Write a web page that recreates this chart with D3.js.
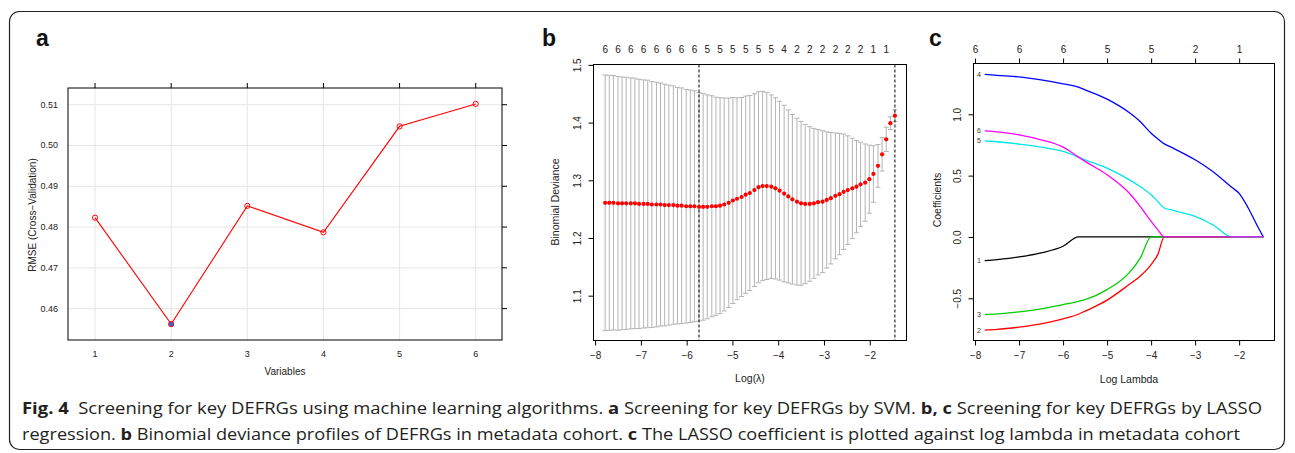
<!DOCTYPE html>
<html>
<head>
<meta charset="utf-8">
<script src="https://cdn.jsdelivr.net/npm/d3@7"></script>
<style>
  body { margin: 0; background: #fff; }
  text { font-family: "Liberation Sans", Arial, sans-serif; }
</style>
</head>
<body>
<script>
// ---- panel a : SVM-RFE ----
const varCounts = [1, 2, 3, 4, 5, 6];
const rmse = [0.4823, 0.4562, 0.4852, 0.4787, 0.5047, 0.5102];
const rmseTicks = [0.46, 0.47, 0.48, 0.49, 0.5, 0.51];

// ---- panel b : cv.glmnet ----
const logLambda = [
  -7.78, -7.69, -7.6, -7.5, -7.41, -7.32, -7.22, -7.13, -7.04, -6.94,
  -6.85, -6.76, -6.66, -6.57, -6.48, -6.39, -6.29, -6.2, -6.11, -6.01,
  -5.92, -5.83, -5.73, -5.64, -5.55, -5.45, -5.36, -5.27, -5.18, -5.08,
  -4.99, -4.9, -4.8, -4.71, -4.62, -4.52, -4.43, -4.34, -4.25, -4.15,
  -4.06, -3.97, -3.87, -3.78, -3.69, -3.59, -3.5, -3.41, -3.31, -3.22,
  -3.13, -3.03, -2.94, -2.85, -2.75, -2.66, -2.57, -2.48, -2.38, -2.29,
  -2.2, -2.1, -2.01, -1.92, -1.82, -1.73, -1.64, -1.55, -1.45
];
const cvMean = [
  1.261, 1.261, 1.261, 1.26, 1.26, 1.26, 1.26, 1.26, 1.259, 1.259,
  1.259, 1.258, 1.258, 1.258, 1.257, 1.257, 1.257, 1.256, 1.256, 1.255,
  1.255, 1.255, 1.254, 1.254, 1.254, 1.255, 1.255, 1.256, 1.258, 1.261,
  1.265, 1.268, 1.271, 1.275, 1.278, 1.283, 1.288, 1.29, 1.29, 1.289,
  1.286, 1.282, 1.277, 1.272, 1.267, 1.263, 1.26, 1.259, 1.259, 1.26,
  1.262, 1.263, 1.266, 1.269, 1.273, 1.276, 1.28, 1.283, 1.286, 1.289,
  1.293, 1.296, 1.302, 1.311, 1.325, 1.345, 1.371, 1.399, 1.412
];
const cvSd = [
  0.2215, 0.221, 0.2205, 0.22, 0.219, 0.2185, 0.2175, 0.217, 0.216, 0.215,
  0.2145, 0.213, 0.212, 0.2105, 0.2095, 0.208, 0.2065, 0.205, 0.204, 0.2025,
  0.2015, 0.2, 0.198, 0.1965, 0.194, 0.1915, 0.189, 0.187, 0.1845, 0.1815,
  0.1785, 0.175, 0.1725, 0.171, 0.169, 0.167, 0.1655, 0.164, 0.162, 0.159,
  0.157, 0.155, 0.153, 0.15, 0.147, 0.1445, 0.142, 0.138, 0.134, 0.13,
  0.126, 0.123, 0.118, 0.114, 0.109, 0.105, 0.1, 0.094, 0.087, 0.08,
  0.073, 0.067, 0.059, 0.049, 0.037, 0.029, 0.021, 0.011, 0.01
];
// number of non-zero coefficients shown on top (every 3rd lambda)
const nzeroTop = ["6","6","6","6","6","6","6","6","5","5","5","5","5","5","4","2","2","2","2","2","2","1","1"];
const lambdaMin = -5.73;
const lambda1se = -1.45;
const devTicks = [1.1, 1.2, 1.3, 1.4, 1.5];
const logTicks = [-8, -7, -6, -5, -4, -3, -2];

// ---- panel c : coefficient paths ----
const pathLogLambda = [-7.78, -7.5, -7.0, -6.5, -6.0, -5.65, -5.5, -5.0, -4.5, -4.25, -4.0, -3.85, -3.7, -3.5, -3.0, -2.6, -2.17, -2.0, -1.8, -1.6, -1.45];
const coef1 = [-0.193, -0.184, -0.163, -0.13, -0.076, 0, 0, 0, 0, 0, 0, 0, 0, 0, 0, 0, 0, 0, 0, 0, 0];
const coef2 = [-0.759, -0.754, -0.735, -0.708, -0.667, -0.63, -0.605, -0.515, -0.388, -0.32, -0.225, -0.144, 0, 0, 0, 0, 0, 0, 0, 0, 0];
const coef3 = [-0.632, -0.627, -0.61, -0.586, -0.551, -0.525, -0.51, -0.429, -0.293, -0.175, 0, 0, 0, 0, 0, 0, 0, 0, 0, 0, 0];
const coef4 = [1.326, 1.318, 1.305, 1.28, 1.248, 1.222, 1.199, 1.123, 1.014, 0.941, 0.846, 0.8, 0.759, 0.724, 0.629, 0.534, 0.405, 0.355, 0.24, 0.1, 0];
const coef5 = [0.784, 0.776, 0.757, 0.732, 0.697, 0.651, 0.629, 0.561, 0.467, 0.412, 0.344, 0.29, 0.236, 0.217, 0.168, 0.1, 0, 0, 0, 0, 0];
const coef6 = [0.865, 0.857, 0.833, 0.792, 0.732, 0.651, 0.616, 0.507, 0.358, 0.25, 0.127, 0.06, 0, 0, 0, 0, 0, 0, 0, 0, 0];
const coefNames = ["1", "2", "3", "4", "5", "6"];
const coefColors = ["#000000", "#ff0000", "#00cd00", "#0000ff", "#00e5e5", "#ff00ff"];
const dfTop = ["6", "6", "6", "5", "5", "2", "1"];
const coefTicks = [-0.5, 0, 0.5, 1.0];

const W = 1295, H = 453;
const svg = d3.select("body").append("svg").attr("width", W).attr("height", H);

// outer frame
svg.append("rect")
  .attr("x", 9.5).attr("y", 11.5).attr("width", 1275).attr("height", 438)
  .attr("rx", 10).attr("fill", "none").attr("stroke", "#222").attr("stroke-width", 1.2);

const panelLabel = (x, t) => {
  svg.append("text").attr("x", x).attr("y", 46).text(t)
    .style("font-size", "23px").style("font-weight", "bold").attr("fill", "#111");
};
panelLabel(36, "a");
panelLabel(542, "b");
panelLabel(929, "c");

const minus = (v, fmt) => fmt(v).replace("-", "\u2212");

// ================= panel a =================
const drawPanelA = () => {
  const xA = d3.scaleLinear().domain([0.645, 6.345]).range([68, 502]);
  const yA = d3.scaleLinear().domain([0.4523, 0.5141]).range([340, 88]);
  const g = svg.append("g");

  g.selectAll(".gx").data(varCounts).enter().append("line")
    .attr("x1", (d) => xA(d)).attr("x2", (d) => xA(d))
    .attr("y1", 88).attr("y2", 340)
    .attr("stroke", "#e6e6e6").attr("stroke-width", 1);
  g.selectAll(".gy").data(rmseTicks).enter().append("line")
    .attr("y1", (d) => yA(d)).attr("y2", (d) => yA(d))
    .attr("x1", 68).attr("x2", 502)
    .attr("stroke", "#e6e6e6").attr("stroke-width", 1);

  g.append("rect").attr("x", 68).attr("y", 88).attr("width", 434).attr("height", 252)
    .attr("fill", "none").attr("stroke", "#000").attr("stroke-width", 1);

  // top and right ticks
  g.selectAll(".tt").data(varCounts).enter().append("line")
    .attr("x1", (d) => xA(d)).attr("x2", (d) => xA(d))
    .attr("y1", 83).attr("y2", 88).attr("stroke", "#000");
  g.selectAll(".rt").data(rmseTicks).enter().append("line")
    .attr("y1", (d) => yA(d)).attr("y2", (d) => yA(d))
    .attr("x1", 502).attr("x2", 507).attr("stroke", "#000");

  g.selectAll(".xl").data(varCounts).enter().append("text")
    .attr("x", (d) => xA(d)).attr("y", 357).attr("text-anchor", "middle")
    .style("font-size", "9px").attr("fill", "#222").text((d) => d);
  g.selectAll(".yl").data(rmseTicks).enter().append("text")
    .attr("x", 58).attr("y", (d) => yA(d) + 3).attr("text-anchor", "end")
    .style("font-size", "9px").attr("fill", "#222").text((d) => d3.format(".2f")(d));

  g.append("text").attr("x", 285).attr("y", 375).attr("text-anchor", "middle")
    .style("font-size", "10px").attr("fill", "#222").text("Variables");
  g.append("text").attr("transform", "translate(36,215) rotate(-90)")
    .attr("text-anchor", "middle").style("font-size", "10px").attr("fill", "#222")
    .text("RMSE (Cross\u2212Validation)");

  const line = d3.line().x((d, i) => xA(varCounts[i])).y((d) => yA(d));
  g.append("path").datum(rmse).attr("d", line)
    .attr("fill", "none").attr("stroke", "#ff0000").attr("stroke-width", 1.1);

  const best = d3.minIndex(rmse);
  g.selectAll(".pt").data(rmse).enter().append("circle")
    .attr("cx", (d, i) => xA(varCounts[i])).attr("cy", (d) => yA(d)).attr("r", 2.6)
    .attr("fill", (d, i) => (i === best ? "#1f6fe0" : "none"))
    .attr("stroke", "#ff0000").attr("stroke-width", 1);
};

// ================= panel b =================
const drawPanelB = () => {
  const xB = d3.scaleLinear().domain([-8.035, -1.197]).range([593.5, 906.5]);
  const yB = d3.scaleLinear().domain([1.0223, 1.5007]).range([340.5, 64.5]);
  const g = svg.append("g");

  // error bars
  const bars = g.selectAll(".eb").data(logLambda).enter().append("g")
    .attr("stroke", "#b4b4b4").attr("stroke-width", 1);
  bars.append("line")
    .attr("x1", (d) => xB(d)).attr("x2", (d) => xB(d))
    .attr("y1", (d, i) => yB(cvMean[i] + cvSd[i])).attr("y2", (d, i) => yB(cvMean[i] - cvSd[i]));
  bars.append("line")
    .attr("x1", (d) => xB(d) - 2.5).attr("x2", (d) => xB(d) + 2.5)
    .attr("y1", (d, i) => yB(cvMean[i] + cvSd[i])).attr("y2", (d, i) => yB(cvMean[i] + cvSd[i]));
  bars.append("line")
    .attr("x1", (d) => xB(d) - 2.5).attr("x2", (d) => xB(d) + 2.5)
    .attr("y1", (d, i) => yB(cvMean[i] - cvSd[i])).attr("y2", (d, i) => yB(cvMean[i] - cvSd[i]));

  g.selectAll(".vl").data([lambdaMin, lambda1se]).enter().append("line")
    .attr("x1", (d) => xB(d)).attr("x2", (d) => xB(d))
    .attr("y1", 64.5).attr("y2", 340.5)
    .attr("stroke", "#000").attr("stroke-width", 1).attr("stroke-dasharray", "3,2");

  g.selectAll(".dot").data(cvMean).enter().append("circle")
    .attr("cx", (d, i) => xB(logLambda[i])).attr("cy", (d) => yB(d)).attr("r", 2.1)
    .attr("fill", "#ff0000");

  g.append("rect").attr("x", 593.5).attr("y", 64.5).attr("width", 313).attr("height", 276)
    .attr("fill", "none").attr("stroke", "#000").attr("stroke-width", 1);

  const xAxis = d3.axisBottom(xB).tickValues(logTicks).tickSize(5).tickPadding(6)
    .tickFormat((d) => minus(d, d3.format("d")));
  g.append("g").attr("transform", "translate(0,340.5)").call(xAxis)
    .call((s) => s.select(".domain").attr("d", "M" + xB(-8) + ",0H" + xB(-2)));
  const yAxis = d3.axisLeft(yB).tickValues(devTicks).tickSize(5).tickFormat(d3.format(".1f"));
  const ya = g.append("g").attr("transform", "translate(593.5,0)").call(yAxis);
  ya.select(".domain").attr("d", "M0," + yB(1.1) + "V" + yB(1.5));
  ya.selectAll(".tick text").attr("x", 0).attr("dx", 0).attr("dy", 0)
    .attr("text-anchor", "middle")
    .attr("transform", "translate(-13,0) rotate(-90)");
  g.selectAll(".tick text").style("font-size", "10px").style("font-family", "Liberation Sans, Arial, sans-serif").attr("fill", "#222");

  // top: number of non-zero coefficients
  g.selectAll(".nz").data(nzeroTop).enter().append("text")
    .attr("x", (d, i) => xB(logLambda[i * 3])).attr("y", 53)
    .attr("text-anchor", "middle").style("font-size", "10px").attr("fill", "#222")
    .text((d) => d);

  g.append("text").attr("x", 750).attr("y", 382).attr("text-anchor", "middle")
    .style("font-size", "10.5px").attr("fill", "#222").text("Log(\u03bb)");
  g.append("text").attr("transform", "translate(559,202) rotate(-90)")
    .attr("text-anchor", "middle").style("font-size", "10.5px").attr("fill", "#222")
    .text("Binomial Deviance");
};

// ================= panel c =================
const drawPanelC = () => {
  const xC = d3.scaleLinear().domain([-8.035, -1.197]).range([973.5, 1274.5]);
  const yC = d3.scaleLinear().domain([-0.844, 1.414]).range([340.5, 63.5]);
  const g = svg.append("g");
  const coefs = [coef1, coef2, coef3, coef4, coef5, coef6];

  const line = d3.line().curve(d3.curveMonotoneX)
    .x((d, i) => xC(pathLogLambda[i])).y((d) => yC(d));
  g.selectAll(".cp").data(coefs).enter().append("path")
    .attr("d", (d) => line(d))
    .attr("fill", "none").attr("stroke", (d, i) => coefColors[i]).attr("stroke-width", 1.3);

  g.selectAll(".cn").data(coefs).enter().append("text")
    .attr("x", 979).attr("y", (d) => yC(d[0]) + 2.5).attr("text-anchor", "middle")
    .style("font-size", "7px").attr("fill", "#333").text((d, i) => coefNames[i]);

  g.append("rect").attr("x", 973.5).attr("y", 63.5).attr("width", 301).attr("height", 277)
    .attr("fill", "none").attr("stroke", "#000").attr("stroke-width", 1);

  const xAxis = d3.axisBottom(xC).tickValues(logTicks).tickSize(5).tickPadding(6)
    .tickFormat((d) => minus(d, d3.format("d")));
  g.append("g").attr("transform", "translate(0,340.5)").call(xAxis)
    .call((s) => s.select(".domain").attr("d", "M" + xC(-8) + ",0H" + xC(-2)));
  const topAxis = d3.axisTop(xC).tickValues(logTicks).tickSize(5).tickPadding(6)
    .tickFormat((d, i) => dfTop[i]);
  g.append("g").attr("transform", "translate(0,63.5)").call(topAxis)
    .call((s) => s.select(".domain").attr("d", "M" + xC(-8) + ",0H" + xC(-2)));
  const yAxis = d3.axisLeft(yC).tickValues(coefTicks).tickSize(5)
    .tickFormat((d) => minus(d, d3.format(".1f")));
  const ya = g.append("g").attr("transform", "translate(973.5,0)").call(yAxis);
  ya.select(".domain").attr("d", "M0," + yC(-0.5) + "V" + yC(1.0));
  ya.selectAll(".tick text").attr("x", 0).attr("dx", 0).attr("dy", 0)
    .attr("text-anchor", "middle")
    .attr("transform", "translate(-13,0) rotate(-90)");
  g.selectAll(".tick text").style("font-size", "10px").style("font-family", "Liberation Sans, Arial, sans-serif").attr("fill", "#222");

  g.append("text").attr("x", 1129).attr("y", 383).attr("text-anchor", "middle")
    .style("font-size", "10.5px").attr("fill", "#222").text("Log Lambda");
  g.append("text").attr("transform", "translate(941,200) rotate(-90)")
    .attr("text-anchor", "middle").style("font-size", "10.5px").attr("fill", "#222")
    .text("Coefficients");
};

// ================= caption =================
const captionLine1 = [
  ["Fig. 4", true], ["  Screening for key DEFRGs using machine learning algorithms. ", false],
  ["a", true], [" Screening for key DEFRGs by SVM. ", false], ["b, c", true],
  [" Screening for key DEFRGs by LASSO", false]
];
const captionLine2 = [
  ["regression. ", false], ["b", true], [" Binomial deviance profiles of DEFRGs in metadata cohort. ", false],
  ["c", true], [" The LASSO coefficient is plotted against log lambda in metadata cohort", false]
];
const drawCaption = (parts, y, width) => {
  const t = svg.append("text").attr("x", 22).attr("y", y)
    .attr("textLength", width).attr("lengthAdjust", "spacingAndGlyphs")
    .style("font-family", "'Liberation Sans Narrow', 'Open Sans', sans-serif")
    .style("font-size", "16px").attr("fill", "#231f20")
    .attr("xml:space", "preserve").style("white-space", "pre");
  parts.forEach((p) => {
    t.append("tspan").text(p[0]).style("font-weight", p[1] ? "bold" : "normal");
  });
};

drawPanelA();
drawPanelB();
drawPanelC();
drawCaption(captionLine1, 414, 1240);
drawCaption(captionLine2, 440, 1218);
</script>
</body>
</html>
